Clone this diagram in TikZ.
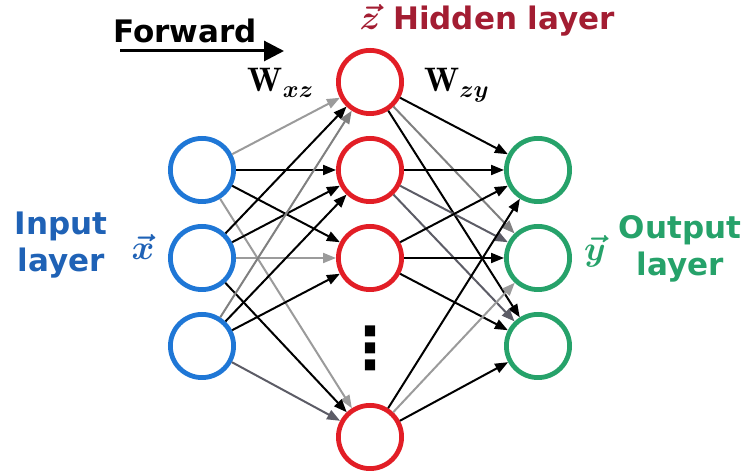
\documentclass[tikz,border=0pt]{standalone}
\usepackage{fontspec}
\setsansfont{DejaVu Sans}
\usepackage{bm}
\usepackage{xcolor}
\definecolor{inblue}{RGB}{31,119,214}
\definecolor{intext}{RGB}{31,98,182}
\definecolor{hidred}{RGB}{226,30,38}
\definecolor{hidtext}{RGB}{163,29,50}
\definecolor{outgreen}{RGB}{38,162,106}
\definecolor{lgray}{RGB}{155,155,155}
\definecolor{mgray}{RGB}{128,128,128}
\definecolor{dgray}{RGB}{92,92,102}
\usepackage{tikz}
\usetikzlibrary{arrows.meta,positioning}

\begin{document}
\begin{tikzpicture}[
    x=0.5pt, y=-0.5pt,
    node distance=10pt and 50pt,
    neuron/.style={draw, circle, line width=2.4pt, minimum size=31.6pt, inner sep=0pt},
    lbl/.style={font=\sffamily\bfseries\fontsize{15.5}{18.5}\selectfont, align=center},
    wlbl/.style={font=\fontsize{17}{20}\selectfont, inner sep=1pt},
    arr/.style={-{Triangle[length=6.5pt,width=5pt]}, line width=1pt}
]
\useasboundingbox (0,0) rectangle (744,474);

\node[neuron, inblue] (in2) at (202,258) {};
\node[neuron, inblue, above=of in2] (in1) {};
\node[neuron, inblue, below=of in2] (in3) {};
\node[neuron, hidred, right=of in1] (hid2) {};
\node[neuron, hidred, above=of hid2] (hid1) {};
\node[neuron, hidred, below=of hid2] (hid3) {};
\node[neuron, hidred, below=55.5pt of hid3] (hid4) {};
\node[neuron, outgreen, right=of hid2] (out1) {};
\node[neuron, outgreen, below=of out1] (out2) {};
\node[neuron, outgreen, below=of out2] (out3) {};
\node[font=\sffamily\bfseries\fontsize{29}{29}\selectfont] (vdots) at (370,348) {⋮};

\draw[arr, lgray] (in1) -- (hid1);
\draw[arr] (in1) -- (hid2);
\draw[arr] (in1) -- (hid3);
\draw[arr, lgray] (in1) -- (hid4);
\draw[arr] (in2) -- (hid1);
\draw[arr] (in2) -- (hid2);
\draw[arr, lgray] (in2) -- (hid3);
\draw[arr] (in2) -- (hid4);
\draw[arr, mgray] (in3) -- (hid1);
\draw[arr] (in3) -- (hid2);
\draw[arr] (in3) -- (hid3);
\draw[arr, dgray] (in3) -- (hid4);

\draw[arr] (hid1) -- (out1);
\draw[arr, mgray] (hid1) -- (out2);
\draw[arr] (hid1) -- (out3);
\draw[arr] (hid2) -- (out1);
\draw[arr, dgray] (hid2) -- (out2);
\draw[arr, dgray] (hid2) -- (out3);
\draw[arr] (hid3) -- (out1);
\draw[arr] (hid3) -- (out2);
\draw[arr] (hid3) -- (out3);
\draw[arr] (hid4) -- (out1);
\draw[arr, lgray] (hid4) -- (out2);
\draw[arr] (hid4) -- (out3);

% labels
\coordinate (fwdstart) at (120,51);
\coordinate (fwdend) at (284,51);
\draw[-{Triangle[length=10pt,width=10pt]}, line width=1.5pt] (fwdstart) -- (fwdend);
\node[lbl, anchor=base] (fwd) at (185,43) {Forward};
\node[wlbl, hidtext, anchor=base] (zvec) at (370,30) {$\bm{\vec{z}}$};
\node[lbl, hidtext, anchor=base west] (hidlbl) at (386,30) {Hidden layer};
\node[lbl, intext] (inlbl) at (61,245) {Input\\layer};
\node[lbl, outgreen] (outlbl) at (680,249) {Output\\layer};
\node[wlbl, intext] (xvec) at (143,247) {$\bm{\vec{x}}$};
\node[wlbl, outgreen] (yvec) at (595,251) {$\bm{\vec{y}}$};
\node[wlbl, anchor=base] (wxz) at (281,92) {$\mathbf{W}_{\bm{xz}}$};
\node[wlbl, anchor=base] (wzy) at (457,92) {$\mathbf{W}_{\bm{zy}}$};
\end{tikzpicture}
\end{document}
